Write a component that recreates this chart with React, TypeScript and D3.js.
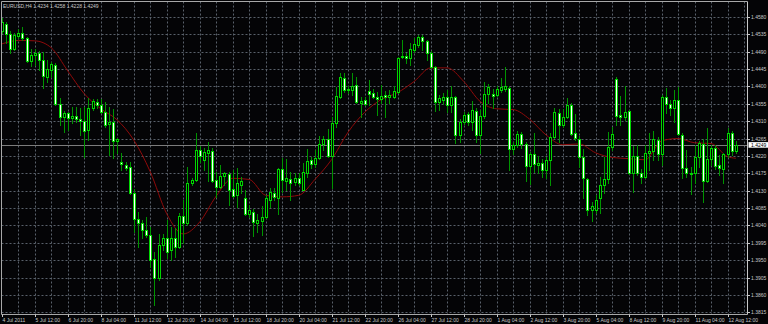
import React from "react";
import * as d3 from "d3";

const title = "EURUSD,H4 1.4234 1.4258 1.4228 1.4249";
const bidPrice = 1.4249;

const opens = [
  1.4544, 1.4562, 1.4536, 1.4497, 1.4531, 1.4539, 1.4526, 1.4466, 1.4482, 1.4487,
  1.4469, 1.4425, 1.4443, 1.4456, 1.4355, 1.4321, 1.4331, 1.4318, 1.4324, 1.4316,
  1.4311, 1.4287, 1.4344, 1.4360, 1.4352, 1.4334, 1.4303, 1.4308, 1.4259, 1.4204,
  1.4197, 1.4191, 1.4124, 1.4057, 1.4046, 1.4028, 1.4015, 1.3953, 1.3904, 1.3989,
  1.4008, 1.3977, 1.4008, 1.3984, 1.4065, 1.4046, 1.4150, 1.4158, 1.4236, 1.4210,
  1.4228, 1.4233, 1.4158, 1.4140, 1.4168, 1.4173, 1.4135, 1.4119, 1.4145, 1.4111,
  1.4070, 1.4075, 1.4046, 1.4052, 1.4062, 1.4106, 1.4124, 1.4111, 1.4186, 1.4155,
  1.4160, 1.4153, 1.4163, 1.4132, 1.4176, 1.4210, 1.4199, 1.4215, 1.4251, 1.4264,
  1.4220, 1.4305, 1.4373, 1.4422, 1.4394, 1.4391, 1.4404, 1.4357, 1.4365, 1.4388,
  1.4383, 1.4373, 1.4368, 1.4378, 1.4373, 1.4373, 1.4386, 1.4476, 1.4479, 1.4474,
  1.4495, 1.4507, 1.4528, 1.4518, 1.4487, 1.4451, 1.4360, 1.4365, 1.4373, 1.4352,
  1.4373, 1.4274, 1.4308, 1.4329, 1.4308, 1.4337, 1.4274, 1.4324, 1.4381, 1.4381,
  1.4378, 1.4391, 1.4394, 1.4396, 1.4238, 1.4248, 1.4277, 1.4251, 1.4194, 1.4225,
  1.4197, 1.4202, 1.4184, 1.4210, 1.4269, 1.4331, 1.4300, 1.4321, 1.4352, 1.4280,
  1.4264, 1.4217, 1.4160, 1.4080, 1.4080, 1.4111, 1.4145, 1.4160, 1.4243, 1.4419,
  1.4326, 1.4321, 1.4337, 1.4176, 1.4220, 1.4176, 1.4166, 1.4228, 1.4233, 1.4261,
  1.4225, 1.4373, 1.4355, 1.4344, 1.4365, 1.4274, 1.4189, 1.4176, 1.4176, 1.4217,
  1.4251, 1.4155, 1.4212, 1.4241, 1.4197, 1.4186, 1.4225, 1.4280, 1.4234,
];

const highs = [
  1.4577, 1.4567, 1.4544, 1.4539, 1.4549, 1.4554, 1.4528, 1.4497, 1.4497, 1.4492,
  1.4489, 1.4469, 1.4463, 1.4461, 1.4370, 1.4337, 1.4334, 1.4347, 1.4347, 1.4344,
  1.4347, 1.4370, 1.4368, 1.4368, 1.4368, 1.4360, 1.4347, 1.4342, 1.4267, 1.4228,
  1.4204, 1.4204, 1.4135, 1.4075, 1.4054, 1.4062, 1.4036, 1.3971, 1.4018, 1.4018,
  1.4054, 1.4036, 1.4034, 1.4072, 1.4106, 1.4191, 1.4163, 1.4280, 1.4246, 1.4241,
  1.4256, 1.4241, 1.4179, 1.4197, 1.4179, 1.4179, 1.4184, 1.4189, 1.4166, 1.4132,
  1.4093, 1.4083, 1.4070, 1.4091, 1.4119, 1.4137, 1.4137, 1.4189, 1.4215, 1.4212,
  1.4179, 1.4176, 1.4176, 1.4202, 1.4238, 1.4217, 1.4236, 1.4272, 1.4272, 1.4290,
  1.4321, 1.4399, 1.4435, 1.4435, 1.4401, 1.4435, 1.4425, 1.4373, 1.4373, 1.4417,
  1.4394, 1.4386, 1.4404, 1.4388, 1.4391, 1.4401, 1.4476, 1.4520, 1.4487, 1.4513,
  1.4526, 1.4533, 1.4533, 1.4520, 1.4492, 1.4453, 1.4378, 1.4383, 1.4391, 1.4401,
  1.4375, 1.4316, 1.4334, 1.4334, 1.4362, 1.4344, 1.4339, 1.4412, 1.4406, 1.4394,
  1.4401, 1.4422, 1.4451, 1.4401, 1.4256, 1.4285, 1.4282, 1.4256, 1.4230, 1.4280,
  1.4220, 1.4212, 1.4217, 1.4280, 1.4344, 1.4342, 1.4342, 1.4370, 1.4357, 1.4329,
  1.4272, 1.4238, 1.4163, 1.4101, 1.4119, 1.4166, 1.4217, 1.4282, 1.4295, 1.4425,
  1.4375, 1.4401, 1.4339, 1.4246, 1.4248, 1.4186, 1.4248, 1.4280, 1.4285, 1.4269,
  1.4378, 1.4396, 1.4365, 1.4391, 1.4399, 1.4280, 1.4236, 1.4191, 1.4248, 1.4259,
  1.4264, 1.4292, 1.4248, 1.4248, 1.4223, 1.4228, 1.4292, 1.4285, 1.4258,
];

const lows = [
  1.4539, 1.4513, 1.4487, 1.4495, 1.4526, 1.4520, 1.4463, 1.4453, 1.4456, 1.4443,
  1.4396, 1.4412, 1.4425, 1.4352, 1.4300, 1.4282, 1.4287, 1.4305, 1.4308, 1.4274,
  1.4217, 1.4261, 1.4339, 1.4344, 1.4331, 1.4295, 1.4223, 1.4215, 1.4228, 1.4184,
  1.4184, 1.4122, 1.4023, 1.3984, 1.4008, 1.4010, 1.3933, 1.3834, 1.3899, 1.3977,
  1.3956, 1.3951, 1.3958, 1.3982, 1.3995, 1.4041, 1.4145, 1.4155, 1.4204, 1.4184,
  1.4155, 1.4153, 1.4114, 1.4137, 1.4145, 1.4093, 1.4114, 1.4088, 1.4124, 1.4067,
  1.4062, 1.4013, 1.4023, 1.4015, 1.4059, 1.4088, 1.4106, 1.4070, 1.4127, 1.4132,
  1.4106, 1.4145, 1.4145, 1.4132, 1.4166, 1.4189, 1.4191, 1.4212, 1.4236, 1.4217,
  1.4137, 1.4295, 1.4370, 1.4386, 1.4383, 1.4378, 1.4357, 1.4321, 1.4352, 1.4352,
  1.4370, 1.4326, 1.4357, 1.4321, 1.4357, 1.4370, 1.4383, 1.4474, 1.4461, 1.4456,
  1.4489, 1.4502, 1.4495, 1.4469, 1.4448, 1.4337, 1.4339, 1.4355, 1.4334, 1.4334,
  1.4254, 1.4256, 1.4303, 1.4300, 1.4287, 1.4256, 1.4228, 1.4318, 1.4357, 1.4344,
  1.4375, 1.4386, 1.4388, 1.4184, 1.4225, 1.4243, 1.4241, 1.4155, 1.4147, 1.4179,
  1.4176, 1.4166, 1.4163, 1.4145, 1.4267, 1.4256, 1.4295, 1.4318, 1.4274, 1.4261,
  1.4191, 1.4111, 1.4067, 1.4052, 1.4072, 1.4072, 1.4124, 1.4150, 1.4236, 1.4300,
  1.4300, 1.4313, 1.4173, 1.4127, 1.4171, 1.4150, 1.4163, 1.4184, 1.4210, 1.4210,
  1.4197, 1.4331, 1.4326, 1.4308, 1.4274, 1.4163, 1.4166, 1.4122, 1.4150, 1.4191,
  1.4101, 1.4153, 1.4197, 1.4186, 1.4171, 1.4150, 1.4217, 1.4223, 1.4228,
];

const closes = [
  1.4567, 1.4536, 1.4497, 1.4533, 1.4539, 1.4526, 1.4466, 1.4482, 1.4487, 1.4469,
  1.4427, 1.4445, 1.4458, 1.4355, 1.4321, 1.4331, 1.4318, 1.4324, 1.4316, 1.4311,
  1.4285, 1.4344, 1.4362, 1.4352, 1.4334, 1.4300, 1.4308, 1.4259, 1.4264, 1.4199,
  1.4189, 1.4124, 1.4057, 1.4046, 1.4028, 1.4015, 1.3951, 1.3904, 1.3989, 1.4008,
  1.3971, 1.4008, 1.3984, 1.4065, 1.4046, 1.4150, 1.4158, 1.4236, 1.4220, 1.4230,
  1.4236, 1.4155, 1.4140, 1.4168, 1.4176, 1.4132, 1.4116, 1.4150, 1.4155, 1.4070,
  1.4080, 1.4049, 1.4054, 1.4062, 1.4111, 1.4127, 1.4114, 1.4186, 1.4158, 1.4163,
  1.4150, 1.4163, 1.4150, 1.4179, 1.4207, 1.4199, 1.4215, 1.4251, 1.4264, 1.4220,
  1.4305, 1.4375, 1.4425, 1.4391, 1.4391, 1.4401, 1.4360, 1.4362, 1.4355, 1.4381,
  1.4373, 1.4368, 1.4375, 1.4373, 1.4378, 1.4388, 1.4474, 1.4479, 1.4474, 1.4497,
  1.4510, 1.4528, 1.4518, 1.4487, 1.4451, 1.4360, 1.4370, 1.4373, 1.4352, 1.4373,
  1.4274, 1.4308, 1.4326, 1.4308, 1.4339, 1.4274, 1.4324, 1.4381, 1.4399, 1.4375,
  1.4394, 1.4399, 1.4401, 1.4238, 1.4248, 1.4277, 1.4251, 1.4194, 1.4225, 1.4199,
  1.4202, 1.4184, 1.4210, 1.4269, 1.4334, 1.4300, 1.4321, 1.4352, 1.4277, 1.4267,
  1.4217, 1.4163, 1.4080, 1.4091, 1.4106, 1.4145, 1.4160, 1.4243, 1.4277, 1.4324,
  1.4321, 1.4334, 1.4176, 1.4220, 1.4176, 1.4166, 1.4228, 1.4233, 1.4264, 1.4225,
  1.4373, 1.4355, 1.4344, 1.4365, 1.4277, 1.4189, 1.4176, 1.4173, 1.4217, 1.4254,
  1.4155, 1.4212, 1.4241, 1.4194, 1.4189, 1.4225, 1.4280, 1.4233, 1.4249,
];

const maBars = [
  0, 4, 8, 12, 16, 20, 24, 28, 32, 36, 40, 44, 48, 52, 56, 60, 64, 68, 72, 76, 80, 84, 88,
  92, 96, 100, 104, 108, 112, 116, 120, 124, 128, 132, 136, 140, 144, 148, 152, 156, 160,
  164, 168, 172, 176, 178,
];
const maValues = [
  1.4510, 1.4519, 1.4518, 1.4500, 1.4440, 1.4381, 1.4342, 1.4313, 1.4261, 1.4179, 1.4070,
  1.4018, 1.4049, 1.4116, 1.4162, 1.4159, 1.4118, 1.4114, 1.4118, 1.4160, 1.4211, 1.4282,
  1.4333, 1.4366, 1.4384, 1.4413, 1.4448, 1.4448, 1.4413, 1.4361, 1.4342, 1.4340, 1.4315,
  1.4274, 1.4249, 1.4251, 1.4228, 1.4216, 1.4213, 1.4210, 1.4259, 1.4265, 1.4254, 1.4252,
  1.4218, 1.4214,
];

const priceTicks = [
  1.4580, 1.4535, 1.4490, 1.4445, 1.4400, 1.4355, 1.4310, 1.4265, 1.4220, 1.4175, 1.4130,
  1.4085, 1.4040, 1.3995, 1.3950, 1.3905, 1.3860, 1.3815,
];

const timeLabels = [
  "4 Jul 2011", "5 Jul 12:00", "6 Jul 20:00", "8 Jul 04:00", "11 Jul 12:00", "12 Jul 20:00",
  "14 Jul 04:00", "15 Jul 12:00", "18 Jul 20:00", "20 Jul 04:00", "21 Jul 12:00",
  "22 Jul 20:00", "26 Jul 04:00", "27 Jul 12:00", "28 Jul 20:00", "1 Aug 04:00",
  "2 Aug 12:00", "3 Aug 20:00", "5 Aug 04:00", "8 Aug 12:00", "9 Aug 20:00",
  "11 Aug 04:00", "12 Aug 12:00",
];
const barsPerLabel = 8;
const barsPerGrid = 4;

const W = 768;
const H = 324;
const plotLeft = 1.5;
const plotRight = 747.5;
const plotTop = 1.5;
const plotBottom = 314.5;

const FONT = "'Liberation Sans', Arial, sans-serif";
const TEXT = "#c8c8c8";
const GRID = "#59606a";
const WICK = "#009400";
const BODY_STROKE = "#00d400";

export default function App() {
  const x = d3.scaleLinear().domain([0, 180]).range([1.8, 1.8 + 4.124 * 180]);
  const y = d3.scaleLinear().domain([1.3815, 1.458]).range([312.3, 16.9]);

  const maLine = d3
    .line<number>()
    .x((_, k) => x(maBars[k]))
    .y((v) => y(v))
    .curve(d3.curveMonotoneX);

  const gridBars: number[] = [];
  for (let b = barsPerGrid; x(b) < plotRight - 1; b += barsPerGrid) gridBars.push(b);

  const snap = (v: number) => Math.round(v) + 0.5;

  return (
    <div style={{ position: "absolute", left: 0, top: 0, width: W, height: H }}>
      <svg width={W} height={H} style={{ display: "block" }}>
        <rect x={0} y={0} width={W} height={H} fill="#040406" />
        {priceTicks.map((p) => (
          <line
            key={"hg" + p}
            x1={plotLeft}
            x2={plotRight}
            y1={snap(y(p))}
            y2={snap(y(p))}
            stroke={GRID}
            strokeDasharray="2,2"
            strokeWidth={1}
          />
        ))}
        {gridBars.map((b) => (
          <line
            key={"vg" + b}
            x1={snap(x(b))}
            x2={snap(x(b))}
            y1={plotTop}
            y2={plotBottom}
            stroke={GRID}
            strokeDasharray="2,2"
            strokeWidth={1}
          />
        ))}
        <line
          x1={plotLeft}
          x2={plotRight}
          y1={snap(y(bidPrice))}
          y2={snap(y(bidPrice))}
          stroke="#7c7c7c"
          strokeWidth={1}
        />
        <path d={maLine(maValues) || ""} fill="none" stroke="#8f0a0a" strokeWidth={1} />
        {opens.map((o, i) => {
          const c = closes[i];
          const cx = Math.round(x(i));
          const yh = Math.round(y(highs[i]));
          const yl = Math.round(y(lows[i]));
          const yo = Math.round(y(o));
          const yc = Math.round(y(c));
          const top = Math.min(yo, yc);
          const bot = Math.max(yo, yc);
          const bear = c < o;
          return (
            <g key={"c" + i}>
              <line x1={cx + 0.5} x2={cx + 0.5} y1={yh} y2={yl + 1} stroke={WICK} strokeWidth={1} />
              {bot - top < 1 ? (
                <line x1={cx - 1} x2={cx + 2} y1={top + 0.5} y2={top + 0.5} stroke={BODY_STROKE} strokeWidth={1} />
              ) : (
                <rect
                  x={cx - 0.5}
                  y={top + 0.5}
                  width={2}
                  height={bot - top}
                  fill={bear ? "#ffffff" : "#000000"}
                  stroke={BODY_STROKE}
                  strokeWidth={1}
                />
              )}
            </g>
          );
        })}
        <line x1={plotLeft} x2={plotLeft} y1={plotTop} y2={plotBottom} stroke="#a8a8a8" />
        <line x1={plotRight} x2={plotRight} y1={plotTop} y2={plotBottom} stroke="#c8c8c8" />
        <line x1={plotLeft} x2={plotRight} y1={plotTop} y2={plotTop} stroke="#a8a8a8" />
        <line x1={plotLeft} x2={plotRight} y1={plotBottom} y2={plotBottom} stroke="#a8a8a8" />
        {priceTicks.map((p) => (
          <g key={"pt" + p}>
            <line x1={plotRight} x2={plotRight + 2.5} y1={snap(y(p))} y2={snap(y(p))} stroke="#c8c8c8" />
            <text x={751} y={y(p) + 2} fontFamily={FONT} fontSize={5} fill={TEXT}>
              {p.toFixed(4)}
            </text>
          </g>
        ))}
        <rect x={748.5} y={y(bidPrice) - 2.6} width={19.5} height={5.6} fill="#ffffff" />
        <text x={751} y={y(bidPrice) + 2} fontFamily={FONT} fontSize={5} fill="#000000">
          {bidPrice.toFixed(4)}
        </text>
        {timeLabels.map((t, k) => {
          const bx = snap(x(k * barsPerLabel));
          return (
            <g key={"tl" + k}>
              <line x1={bx} x2={bx} y1={plotBottom} y2={plotBottom + 2.5} stroke="#c8c8c8" />
              <text x={bx} y={321.5} fontFamily={FONT} fontSize={5} fill={TEXT}>
                {t}
              </text>
            </g>
          );
        })}
        <text x={3} y={7.5} fontFamily={FONT} fontSize={5} fill={TEXT}>
          {title}
        </text>
      </svg>
    </div>
  );
}
